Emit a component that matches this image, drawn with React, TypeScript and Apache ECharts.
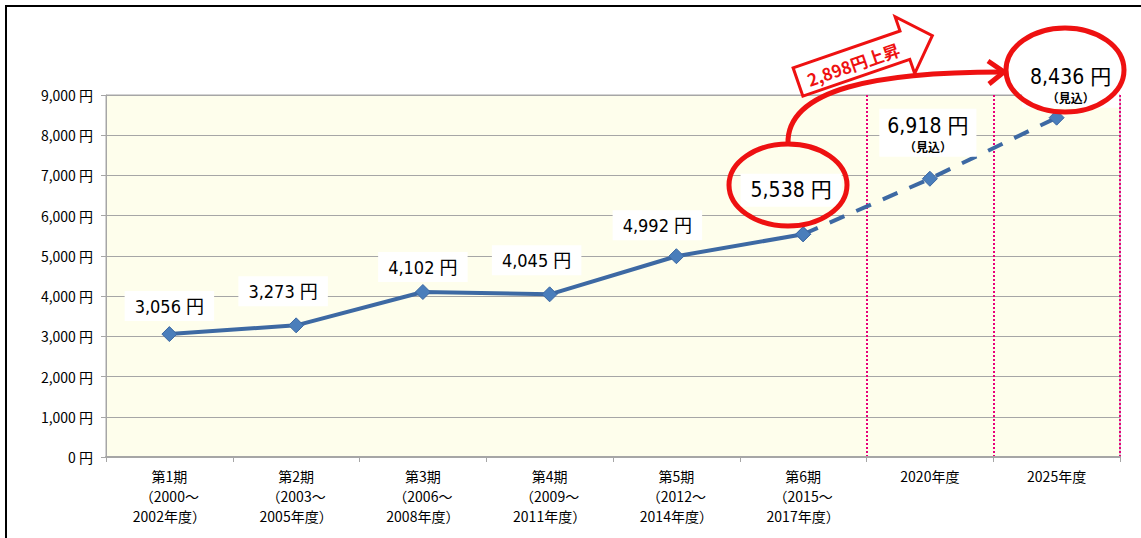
import React, { useEffect, useRef } from "react";
import * as echarts from "echarts";

const categories = [
  "第1期\n（2000～\n2002年度）",
  "第2期\n（2003～\n2005年度）",
  "第3期\n（2006～\n2008年度）",
  "第4期\n（2009～\n2011年度）",
  "第5期\n（2012～\n2014年度）",
  "第6期\n（2015～\n2017年度）",
  "2020年度",
  "2025年度",
];
const actualValues = [3056, 3273, 4102, 4045, 4992, 5538];
const projectedValues = [5538, 6918, 8436];
const projectedNote = "（見込）";
const riseText = "2,898円上昇";

const LINE_COLOR = "#3d69a3";
const MARK_COLOR = "#4a7ebb";
const RED = "#ee1111";
const NUM_FONT = "'Liberation Sans Narrow', 'DejaVu Sans Condensed', 'Noto Sans CJK JP', sans-serif";
const AXIS_FONT = "'Noto Sans CJK JP', sans-serif";

const labelOffsets: number[][] = [
  [0, -28],
  [-13, -34],
  [0, -25],
  [-13, -34],
  [-19, -31],
  [-12, -44],
  [-2, -46],
  [14, -34],
];

const fmt = (v: number) => v.toLocaleString("en-US");

export default function App() {
  const ref = useRef<HTMLDivElement>(null);
  useEffect(() => {
    if (!ref.current) return;
    const chart = echarts.init(ref.current, null, { renderer: "svg" });
    const n = categories.length;
    const startIdx = actualValues.length - 1;

    const baseLabel = (i: number, big: boolean, note: boolean) => ({
      show: true,
      position: "inside",
      offset: labelOffsets[i],
      formatter: (p: any) =>
        note ? `{v|${fmt(p.value)} 円}\n{n|${projectedNote}}` : `${fmt(p.value)} 円`,
      fontFamily: NUM_FONT,
      fontSize: big ? 21 : 18,
      color: "#000",
      backgroundColor: "#fff",
      padding: note ? [4, 8, 2, 8] : [6, 10, 6, 10],
      rich: {
        v: { fontFamily: NUM_FONT, fontSize: 21, color: "#000", lineHeight: 26 },
        n: { fontFamily: "'Noto Sans CJK JP', sans-serif", fontSize: 12, fontWeight: "bold", color: "#000", lineHeight: 16 },
      },
    });

    const solidData: any[] = [];
    const dashedData: any[] = [];
    for (let i = 0; i < n; i++) {
      if (i < actualValues.length) {
        solidData.push({ value: actualValues[i], label: baseLabel(i, i === 5, false) });
      } else {
        solidData.push("-");
      }
      if (i >= startIdx) {
        const v = projectedValues[i - startIdx];
        if (i === startIdx) {
          dashedData.push({ value: v, label: { show: false } });
        } else {
          dashedData.push({ value: v, label: baseLabel(i, true, true) });
        }
      } else {
        dashedData.push("-");
      }
    }

    const arrowPts = [
      [0, -15], [113, -15], [113, -30], [142, 0], [113, 30], [113, 15], [0, 15],
    ];

    chart.setOption({
      animation: false,
      grid: {
        left: 106,
        right: 21,
        top: 95,
        bottom: 81,
        show: true,
        backgroundColor: "#fefeec",
        borderColor: "#a6a6a6",
        borderWidth: 1,
      },
      xAxis: {
        type: "category",
        data: categories,
        boundaryGap: true,
        axisLine: { lineStyle: { color: "#a6a6a6", width: 2 } },
        axisTick: { show: true, length: 5, lineStyle: { color: "#a6a6a6" } },
        axisLabel: {
          interval: 0,
          color: "#000",
          fontSize: 14,
          lineHeight: 20,
          margin: 9,
          fontFamily: AXIS_FONT,
        },
        splitLine: {
          show: true,
          interval: (idx: number) => idx === 6 || idx === 7,
          lineStyle: { color: "#e8007a", type: "dotted", width: 2 },
        },
      },
      yAxis: {
        type: "value",
        min: 0,
        max: 9000,
        interval: 1000,
        axisLine: { show: true, lineStyle: { color: "#a6a6a6", width: 1 } },
        axisTick: { show: true, length: 5, lineStyle: { color: "#a6a6a6" } },
        axisLabel: {
          color: "#000",
          fontSize: 14,
          margin: 13,
          fontFamily: AXIS_FONT,
          formatter: (v: number) => `${fmt(v)} 円`,
        },
        splitLine: { show: true, lineStyle: { color: "#a6a6a6", width: 1 } },
      },
      series: [
        {
          type: "line",
          data: dashedData,
          symbol: "diamond",
          symbolSize: 15,
          itemStyle: { color: MARK_COLOR, borderColor: LINE_COLOR, borderWidth: 1 },
          lineStyle: { color: LINE_COLOR, width: 4, type: [16, 13] },
          z: 3,
        },
        {
          type: "line",
          data: solidData,
          symbol: "diamond",
          symbolSize: 15,
          itemStyle: { color: MARK_COLOR, borderColor: LINE_COLOR, borderWidth: 1 },
          lineStyle: { color: LINE_COLOR, width: 4 },
          z: 4,
        },
      ],
      graphic: [
        {
          type: "rect",
          shape: { x: 6, y: 6, width: 1300, height: 800 },
          style: { fill: "none", stroke: "#000", lineWidth: 2 },
          silent: true,
          z: 100,
        },
        {
          type: "ellipse",
          shape: { cx: 788, cy: 185, rx: 59, ry: 41 },
          style: { fill: "none", stroke: RED, lineWidth: 5 },
          z: 100,
        },
        {
          type: "ellipse",
          shape: { cx: 1065, cy: 70, rx: 59, ry: 42 },
          style: { fill: "none", stroke: RED, lineWidth: 5 },
          z: 100,
        },
        {
          type: "bezierCurve",
          shape: { x1: 788, y1: 144, cpx1: 786, cpy1: 88, cpx2: 880, cpy2: 72, x2: 1002, y2: 72 },
          style: { fill: "none", stroke: RED, lineWidth: 5 },
          z: 100,
        },
        {
          type: "polyline",
          shape: { points: [[988, 61], [1004, 72], [989, 84]] },
          style: { fill: "none", stroke: RED, lineWidth: 5, lineJoin: "miter" },
          z: 100,
        },
        {
          type: "group",
          x: 798,
          y: 82,
          rotation: (19 * Math.PI) / 180,
          z: 100,
          children: [
            {
              type: "polygon",
              shape: { points: arrowPts },
              style: { fill: "#fff", stroke: RED, lineWidth: 3 },
              z: 100,
            },
            {
              type: "text",
              x: 58,
              y: 1,
              style: {
                text: riseText,
                fill: RED,
                font: "bold 17px 'Noto Sans CJK JP', sans-serif",
                align: "center",
                verticalAlign: "middle",
              },
              z: 101,
            },
          ],
        },
      ],
    });
    return () => chart.dispose();
  }, []);
  return (
    <div
      ref={ref}
      style={{ position: "fixed", left: 0, top: 0, width: 1141, height: 538, background: "#fff" }}
    />
  );
}
